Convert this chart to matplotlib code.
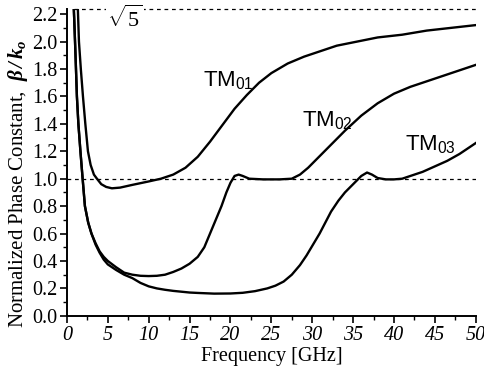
"""Normalized phase constant of TM0n modes versus frequency."""

import matplotlib

matplotlib.use("Agg")
import matplotlib.pyplot as plt
from matplotlib.ticker import MultipleLocator

plt.rcParams["font.family"] = ["Liberation Serif", "DejaVu Serif"]
plt.rcParams["mathtext.fontset"] = "custom"
plt.rcParams["mathtext.rm"] = "Liberation Serif"
plt.rcParams["mathtext.it"] = "Liberation Serif:italic"
plt.rcParams["mathtext.bf"] = "Liberation Serif:bold:italic"
plt.rcParams["mathtext.sf"] = "Liberation Sans"

# TM01 mode
freq_tm01 = [1.3, 1.47, 1.7, 1.96, 2.25, 2.57, 2.9, 3.3, 3.67, 4.2, 4.8, 5.5,
             6.5, 8.0, 10.0, 11.5, 13.0, 14.5, 16.0, 17.5, 19.0, 20.5, 22.0,
             23.5, 25.0, 27.0, 29.0, 31.0, 33.0, 35.5, 38.0, 41.0, 44.0,
             47.0, 50.0]
beta_tm01 = [2.3, 2.0, 1.8, 1.6, 1.4, 1.2, 1.1, 1.03, 1.0, 0.96, 0.94, 0.93,
             0.935, 0.955, 0.98, 1.0, 1.03, 1.08, 1.16, 1.27, 1.39, 1.51,
             1.61, 1.70, 1.77, 1.84, 1.89, 1.93, 1.97, 2.0, 2.03, 2.05, 2.08,
             2.10, 2.12]

# TM02 mode
freq_tm02 = [0.8, 0.9, 1.05, 1.22, 1.4, 1.65, 1.92, 2.2, 2.6, 3.0, 3.5, 4.0,
             4.5, 5.0, 6.0, 7.0, 8.0, 9.0, 10.0, 11.0, 12.0, 13.0, 14.0, 15.0,
             16.0, 16.8, 17.5, 18.2, 18.9, 19.5, 20.0, 20.5, 21.0, 21.5, 22.3,
             24.0, 26.0, 27.5, 28.5, 29.5, 31.0, 32.5, 34.0, 36.0, 38.0, 40.0,
             42.0, 44.0, 46.0, 48.0, 50.0]
beta_tm02 = [2.3, 2.15, 1.9, 1.6, 1.4, 1.2, 1.0, 0.8, 0.68, 0.6, 0.53, 0.47,
             0.43, 0.40, 0.355, 0.315, 0.30, 0.292, 0.29, 0.292, 0.30, 0.32,
             0.345, 0.38, 0.43, 0.5, 0.6, 0.7, 0.8, 0.9, 0.97, 1.02, 1.03,
             1.02, 1.0, 0.995, 0.995, 1.0, 1.03, 1.08, 1.17, 1.26, 1.35, 1.46,
             1.55, 1.62, 1.67, 1.71, 1.75, 1.79, 1.83]

# TM03 mode
freq_tm03 = [0.8, 0.9, 1.05, 1.22, 1.4, 1.65, 1.92, 2.2, 2.6, 3.0, 3.5, 4.0,
             4.5, 5.0, 6.0, 7.0, 8.0, 9.0, 10.0, 11.0, 12.0, 13.0, 14.0, 15.0,
             16.0, 18.0, 20.0, 21.5, 23.0, 24.5, 25.5, 26.5, 27.5, 28.5, 29.3,
             30.1, 30.9, 31.6, 32.3, 33.2, 34.0, 35.0, 36.0, 36.7, 37.3, 38.0,
             39.0, 40.0, 41.0, 42.0, 43.5, 45.0, 46.5, 48.0, 50.0]
beta_tm03 = [2.3, 2.15, 1.9, 1.6, 1.4, 1.2, 1.0, 0.8, 0.68, 0.6, 0.52, 0.46,
             0.41, 0.375, 0.335, 0.30, 0.275, 0.24, 0.215, 0.20, 0.19, 0.182,
             0.176, 0.17, 0.167, 0.162, 0.163, 0.168, 0.18, 0.2, 0.22, 0.25,
             0.3, 0.37, 0.44, 0.52, 0.6, 0.68, 0.76, 0.84, 0.9, 0.96, 1.02,
             1.045, 1.03, 1.005, 0.995, 0.995, 1.0, 1.02, 1.05, 1.09, 1.13,
             1.18, 1.26]

mode_labels = [r"TM$_{\mathsf{01}}$", r"TM$_{\mathsf{02}}$", r"TM$_{\mathsf{03}}$"]
label_pos = [(16.6, 1.72), (28.8, 1.43), (41.4, 1.25)]

sqrt5 = 5 ** 0.5
x_ticks = [0, 5, 10, 15, 20, 25, 30, 35, 40, 45, 50]

fig = plt.figure(figsize=(4.85, 3.76), dpi=100)
ax = fig.add_axes([0.138, 0.160, 0.843, 0.817])

ax.axhline(1.0, color="black", lw=0.9, ls=(0, (3, 3)))
ax.plot([0.9, 50], [sqrt5, sqrt5], color="black", lw=0.9, ls=(0, (3, 3)),
        clip_on=False)
ax.text(7.1, 2.17, r"$\sqrt{5}$", fontsize=16, ha="center", va="center",
        bbox=dict(facecolor="white", edgecolor="none", pad=1.0))

for freq, beta in [(freq_tm01, beta_tm01), (freq_tm02, beta_tm02),
                   (freq_tm03, beta_tm03)]:
    ax.plot(freq, beta, color="black", lw=1.7)

for label, (fx, fy) in zip(mode_labels, label_pos):
    ax.text(fx, fy, label, fontsize=16, family="Liberation Sans",
            ha="left", va="center")

ax.set_xlim(0, 50)
ax.set_ylim(0, 2.24)
ax.set_xticks(x_ticks)
ax.set_xticklabels([str(t) for t in x_ticks], style="italic")
ax.set_yticks([i * 0.2 for i in range(12)])
ax.set_yticklabels([f"{i * 0.2:.1f}" for i in range(12)])
ax.xaxis.set_minor_locator(MultipleLocator(2.5))
ax.yaxis.set_minor_locator(MultipleLocator(0.1))
ax.tick_params(axis="both", which="major", direction="out", length=5,
               width=1.2, labelsize=14.5, pad=2)
ax.tick_params(axis="both", which="minor", direction="out", length=3,
               width=1.0)
for side in ("top", "right"):
    ax.spines[side].set_visible(False)
for side in ("left", "bottom"):
    ax.spines[side].set_linewidth(1.4)

ax.set_xlabel("Frequency [GHz]", fontsize=14.5, labelpad=2)
ax.set_ylabel(r"Normalized Phase Constant,  $\mathbf{\beta\,/\,k_o}$",
              fontsize=15)
ax.yaxis.set_label_coords(-0.09, 0.43)

fig.savefig("out.png", dpi=100)
